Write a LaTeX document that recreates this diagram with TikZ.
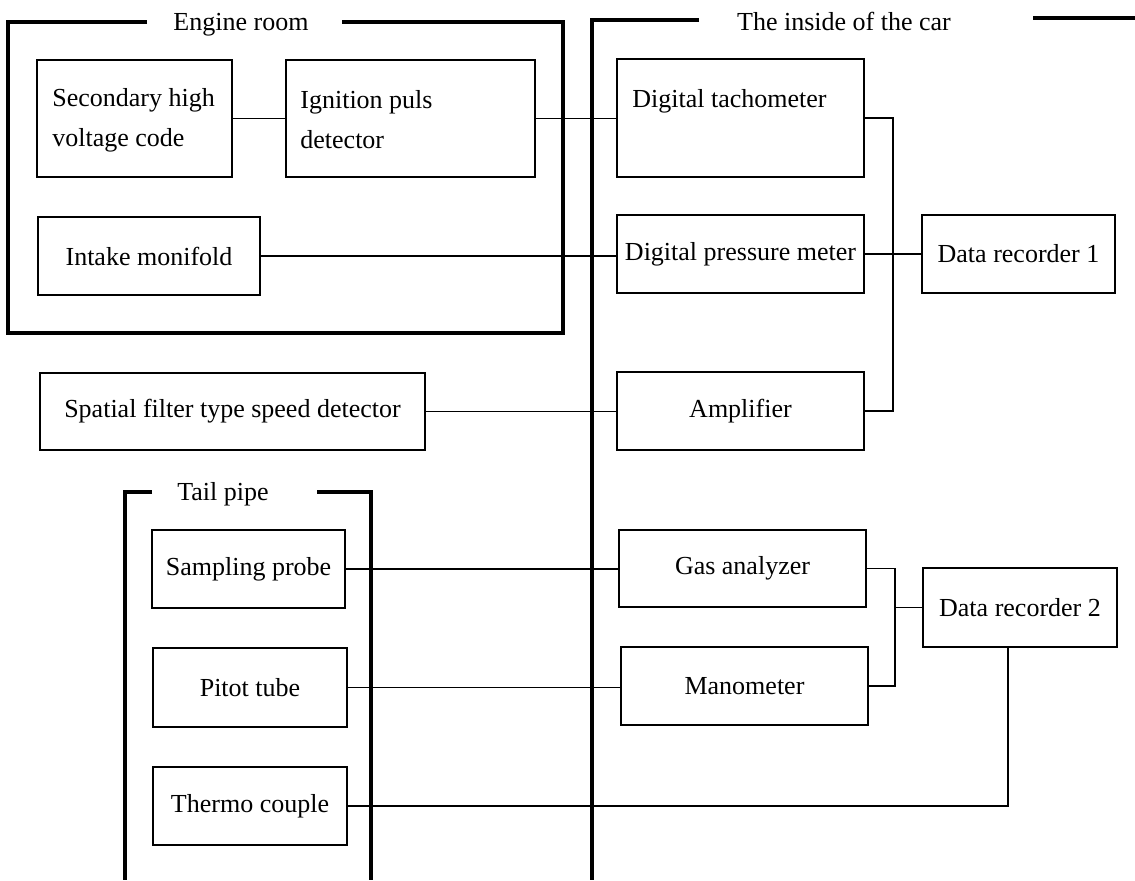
\documentclass[tikz,border=0pt]{standalone}
\usepackage{fontspec}
\setmainfont{Liberation Serif}
\begin{document}
\begin{tikzpicture}[x=0.5pt,y=-0.5pt,
  box/.style={draw, line width=1pt, inner sep=0pt, outer sep=0pt, font=\fontsize{13}{20}\selectfont},
  frame/.style={line width=1.7pt},
  wire/.style={line width=0.6pt},
  lbl/.style={inner sep=0pt, font=\fontsize{13}{20}\selectfont},
  ttl/.style={inner sep=0pt, anchor=base, font=\fontsize{13}{20}\selectfont}]
\useasboundingbox (0,0) rectangle (1135,880);

% group frames
\draw[frame] (147,22) -- (8,22) -- (8,333) -- (563,333) -- (563,22) -- (342,22);
\node[ttl] (tengine) at (241,30) {Engine room};
\draw[frame] (699,20) -- (592,20) -- (592,880);
\draw[frame] (1033,18) -- (1135,18);
\node[ttl] (tcar) at (844,30) {The inside of the car};
\draw[frame] (152,492) -- (125,492) -- (125,880);
\draw[frame] (317,492) -- (371,492) -- (371,880);
\node[ttl] (ttail) at (223,500) {Tail pipe};

% boxes (engine room)
\node[box, minimum width=97.5pt, minimum height=58.5pt] (sec) at (134.5,118.5) {};
\node[lbl, anchor=west, align=left] (sect) at (52,120) {Secondary high\\voltage code};
\node[box, minimum width=124.5pt, minimum height=58.5pt] (ign) at (410.5,118.5) {};
\node[lbl, anchor=west, align=left] (ignt) at (300,120) {Ignition puls\\detector};
\node[box, minimum width=111pt, minimum height=39pt] (intake) at (149,256) {Intake monifold};
\node[box, minimum width=192.5pt, minimum height=38.5pt] (spatial) at (232.5,411.5) {Spatial filter type speed detector};

% inside of the car
\node[box, minimum width=123.5pt, minimum height=59pt] (tach) at (740.5,118) {};
\node[lbl, anchor=base west] (tacht) at (632,107) {Digital tachometer};
\node[box, minimum width=123.5pt, minimum height=39pt] (press) at (740.5,254) {Digital pressure meter};
\node[box, minimum width=123.5pt, minimum height=39pt] (amp) at (740.5,411) {Amplifier};
\node[box, minimum width=96.5pt, minimum height=39pt] (dr1) at (1018.5,254) {Data recorder 1};

% tail pipe
\node[box, minimum width=96.5pt, minimum height=39pt] (samp) at (248.5,569) {Sampling probe};
\node[box, minimum width=97pt, minimum height=39.5pt] (pitot) at (250,687.5) {Pitot tube};
\node[box, minimum width=97pt, minimum height=39pt] (thermo) at (250,806) {Thermo couple};

\node[box, minimum width=123.5pt, minimum height=38.5pt] (gas) at (742.5,568.5) {Gas analyzer};
\node[box, minimum width=123.5pt, minimum height=39pt] (mano) at (744.5,686) {Manometer};
\node[box, minimum width=97pt, minimum height=39.5pt] (dr2) at (1020,607.5) {Data recorder 2};

% connectors
\draw[wire] (sec.east) -- (ign.west);
\draw[wire] (ign.east) -- (ign.east -| tach.west);
\draw[wire] (intake.east) -- (intake.east -| press.west);
\draw[wire] (spatial.east) -- (spatial.east -| amp.west);

\coordinate (b1) at (893,254);
\draw[wire] (tach.east) -| (b1) |- (amp.east);
\draw[wire] (press.east) -- (dr1.west);

\draw[wire] (samp.east) -- (samp.east -| gas.west);
\draw[wire] (pitot.east) -- (pitot.east -| mano.west);
\coordinate (b2) at (895,607.5);
\draw[wire] (gas.east) -| (b2) |- (mano.east);
\draw[wire] (b2) -- (dr2.west);
\coordinate (d2) at (1008,647);
\draw[wire] (d2) |- (thermo.east);
\end{tikzpicture}
\end{document}
